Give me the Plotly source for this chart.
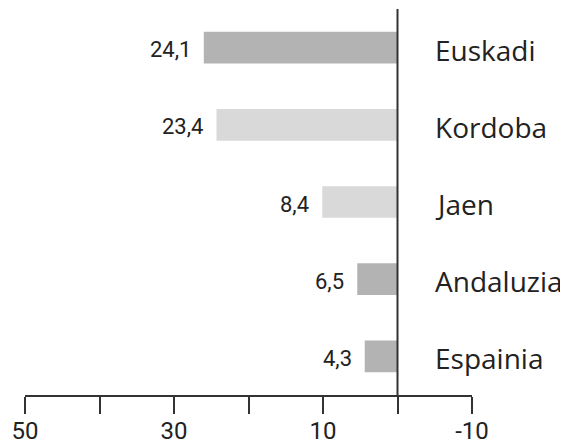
import plotly.graph_objects as go

categories = ["Euskadi", "Kordoba", "Jaen", "Andaluzia", "Espainia"]
bar_values = [26.0, 24.3, 10.1, 5.4, 4.4]
value_labels = ["24,1", "23,4", "8,4", "6,5", "4,3"]
bar_colors = ["#b3b3b3", "#d9d9d9", "#d9d9d9", "#b3b3b3", "#b3b3b3"]
tick_vals = [50, 40, 30, 20, 10, 0, -10]
tick_text = ["50", "", "30", "", "10", "", "-10"]

NUM_FONT = "Roboto"
LAB_FONT = "Open Sans"
INK = "#222222"
LINE = "#333333"

fig = go.Figure()
fig.add_trace(go.Bar(
    y=categories, x=bar_values, orientation="h",
    marker=dict(color=bar_colors, line=dict(width=0)),
    width=0.41, hoverinfo="skip",
))

for cat, v, lab in zip(categories, bar_values, value_labels):
    fig.add_annotation(x=v, y=cat, text=lab, showarrow=False,
                       xanchor="right", xshift=-11, yshift=-2,
                       font=dict(family=NUM_FONT, size=22, color=INK))
    fig.add_annotation(x=-4.7, y=cat, text=cat, showarrow=False,
                       xanchor="left", yshift=-2,
                       font=dict(family=LAB_FONT, size=28, color=INK))

fig.add_shape(type="line", xref="x", yref="paper", x0=0, x1=0, y0=0, y1=1,
              line=dict(color=LINE, width=2))

fig.update_layout(
    width=560, height=440,
    margin=dict(l=17, r=96, t=1, b=53, autoexpand=False),
    plot_bgcolor="white", paper_bgcolor="white",
    showlegend=False,
    font=dict(family=NUM_FONT, color=INK),
    xaxis=dict(range=[50, -10], tickvals=tick_vals, ticktext=tick_text,
               showline=True, linecolor=LINE, linewidth=2,
               ticks="outside", ticklen=17, tickwidth=2, tickcolor=LINE,
               ticklabelstandoff=-4,
               showgrid=False, zeroline=False,
               tickfont=dict(family=NUM_FONT, size=24, color=INK)),
    yaxis=dict(categoryorder="array", categoryarray=categories[::-1],
               range=[-0.5, 4.5], showticklabels=False, showgrid=False,
               zeroline=False, showline=False),
)

fig.write_html("out.html")
